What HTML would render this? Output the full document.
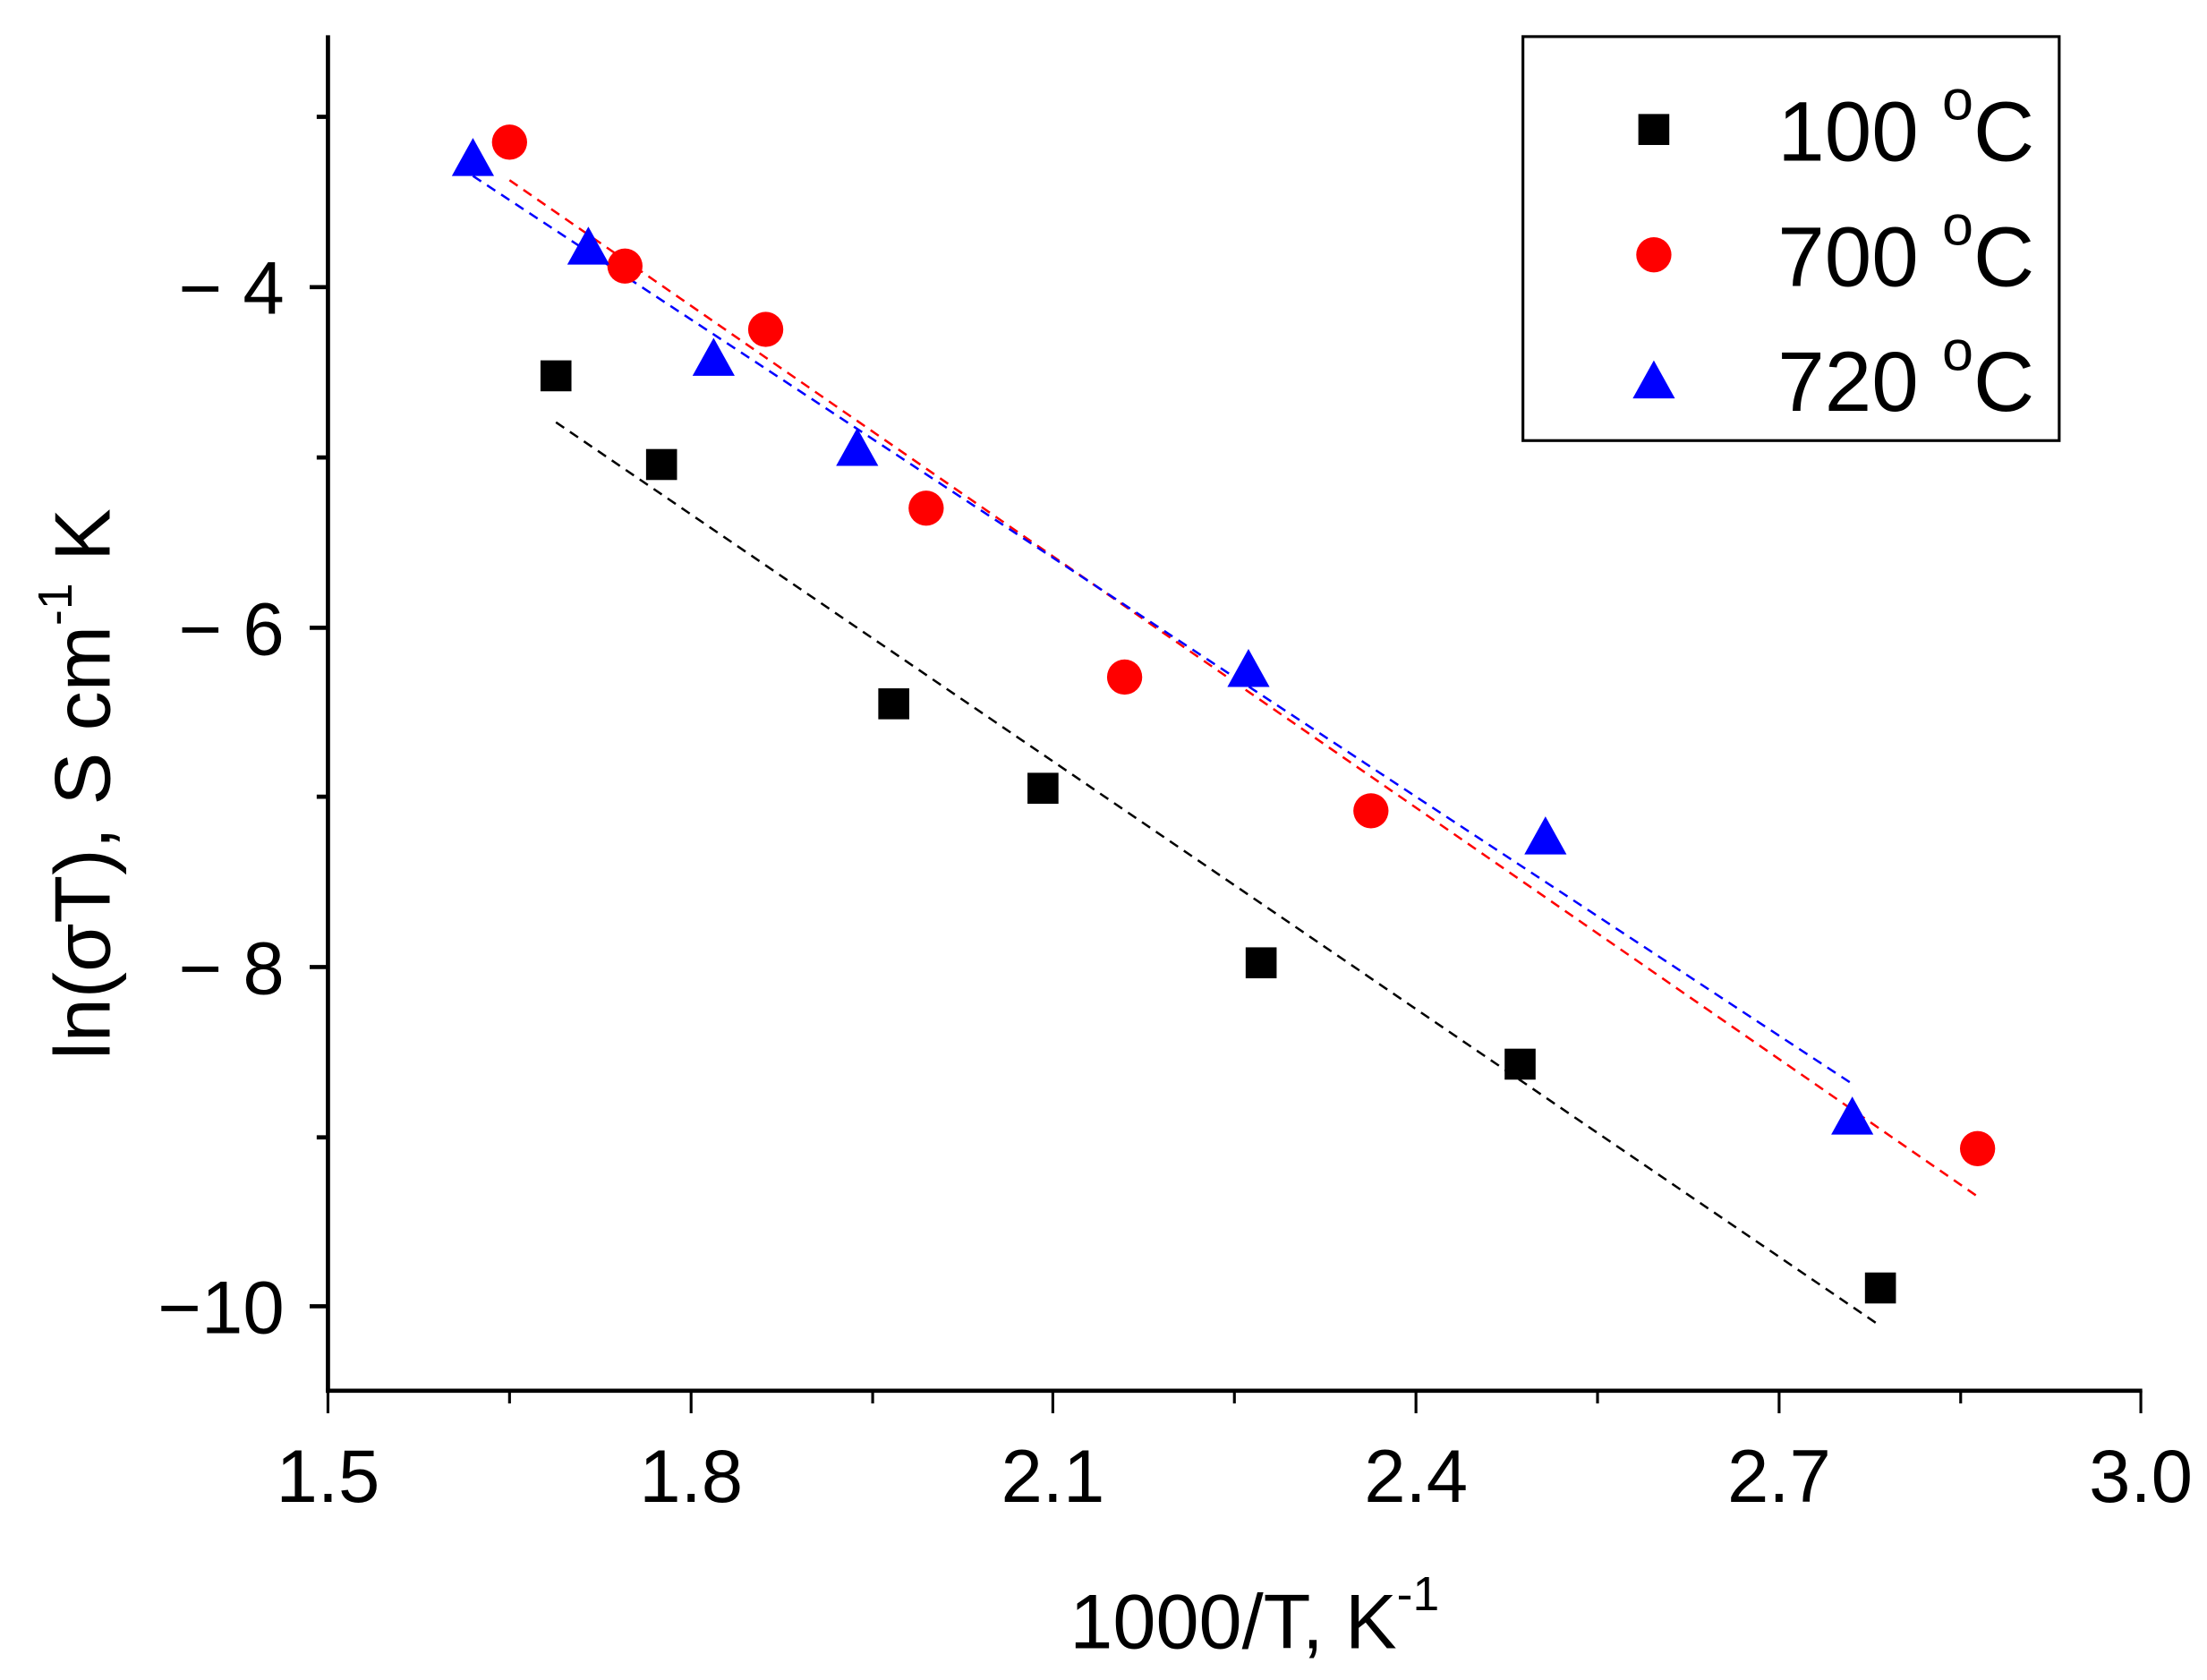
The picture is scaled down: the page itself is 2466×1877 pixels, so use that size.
<!DOCTYPE html>
<html><head><meta charset="utf-8"><style>html,body{margin:0;padding:0;background:#fff}svg{display:block}</style></head>
<body>
<svg width="2466" height="1877" viewBox="0 0 1568 1193.5" xmlns="http://www.w3.org/2000/svg" font-family="Liberation Sans, Arial, sans-serif">
<rect width="1568" height="1193.5" fill="#fff"/>
<line x1="233" y1="25" x2="233" y2="989.5" stroke="#000" stroke-width="3"/>
<line x1="231.5" y1="988" x2="1522" y2="988" stroke="#000" stroke-width="3"/>
<g stroke="#000" stroke-width="3">
<line x1="220" y1="204" x2="233" y2="204"/><line x1="220" y1="446" x2="233" y2="446"/>
<line x1="220" y1="687" x2="233" y2="687"/><line x1="220" y1="928" x2="233" y2="928"/>
<line x1="225" y1="83" x2="233" y2="83"/><line x1="225" y1="325" x2="233" y2="325"/>
<line x1="225" y1="566" x2="233" y2="566"/><line x1="225" y1="808" x2="233" y2="808"/>
</g>
<g stroke="#000" stroke-width="2">
<line x1="233" y1="988" x2="233" y2="1004"/><line x1="491" y1="988" x2="491" y2="1004"/>
<line x1="748" y1="988" x2="748" y2="1004"/><line x1="1006" y1="988" x2="1006" y2="1004"/>
<line x1="1264" y1="988" x2="1264" y2="1004"/><line x1="1521" y1="988" x2="1521" y2="1004"/>
<line x1="362" y1="988" x2="362" y2="997"/><line x1="620" y1="988" x2="620" y2="997"/>
<line x1="877" y1="988" x2="877" y2="997"/><line x1="1135" y1="988" x2="1135" y2="997"/>
<line x1="1393" y1="988" x2="1393" y2="997"/>
</g>
<g font-size="53" fill="#000" text-anchor="end">
<text x="202" y="223">− 4</text><text x="202" y="465">− 6</text>
<text x="202" y="706">− 8</text><text x="202" y="947">−10</text>
</g>
<g font-size="53" fill="#000" text-anchor="middle">
<text x="233" y="1067">1.5</text><text x="491" y="1067">1.8</text><text x="748" y="1067">2.1</text>
<text x="1006" y="1067">2.4</text><text x="1264" y="1067">2.7</text><text x="1521" y="1067">3.0</text>
</g>
<text x="760" y="1171" font-size="55" fill="#000">1000/T, K<tspan font-size="34" dy="-27">-1</tspan></text>
<text transform="translate(78,557) rotate(-90)" text-anchor="middle" font-size="56" fill="#000">ln(σT), S cm<tspan font-size="34" dy="-27">-1</tspan><tspan dy="27"> K</tspan></text>
<g stroke-width="1.6" stroke-dasharray="7,5" fill="none">
<line x1="395" y1="300" x2="1336" y2="942" stroke="#000"/>
<line x1="362" y1="128" x2="1405" y2="850" stroke="#f00"/>
<line x1="336" y1="125" x2="1316" y2="770" stroke="#00f"/>
</g>
<g fill="#000">
<rect x="384" y="256" width="22" height="22"/><rect x="459" y="319" width="22" height="22"/>
<rect x="624" y="489" width="22" height="22"/><rect x="730" y="549" width="22" height="22"/>
<rect x="885" y="673" width="22" height="22"/><rect x="1069" y="745" width="22" height="22"/>
<rect x="1325" y="904" width="22" height="22"/>
</g>
<g fill="#f00">
<circle cx="362" cy="101" r="12.5"/><circle cx="444" cy="189" r="12.5"/><circle cx="544" cy="234" r="12.5"/>
<circle cx="658" cy="361" r="12.5"/><circle cx="799" cy="481" r="12.5"/><circle cx="974" cy="576" r="12.5"/>
<circle cx="1405" cy="816" r="12.5"/>
</g>
<g fill="#00f">
<polygon points="336,98 321,125 351,125"/><polygon points="418,161 403,188 433,188"/>
<polygon points="507,240 492,267 522,267"/><polygon points="609,304 594,331 624,331"/>
<polygon points="887,461 872,488 902,488"/><polygon points="1098,580 1083,607 1113,607"/>
<polygon points="1316,779 1301,806 1331,806"/>
</g>
<rect x="1082" y="26" width="381" height="287" fill="none" stroke="#000" stroke-width="2"/>
<rect x="1164" y="81" width="22" height="22" fill="#000"/>
<circle cx="1175" cy="181" r="12.5" fill="#f00"/>
<polygon points="1175,256 1160,283 1190,283" fill="#00f"/>
<g font-size="60" fill="#000">
<text x="1263" y="114">100 <tspan font-size="40" dy="-29">o</tspan><tspan dy="29">C</tspan></text>
<text x="1263" y="203">700 <tspan font-size="40" dy="-29">o</tspan><tspan dy="29">C</tspan></text>
<text x="1263" y="292">720 <tspan font-size="40" dy="-29">o</tspan><tspan dy="29">C</tspan></text>
</g>
</svg>
</body></html>
